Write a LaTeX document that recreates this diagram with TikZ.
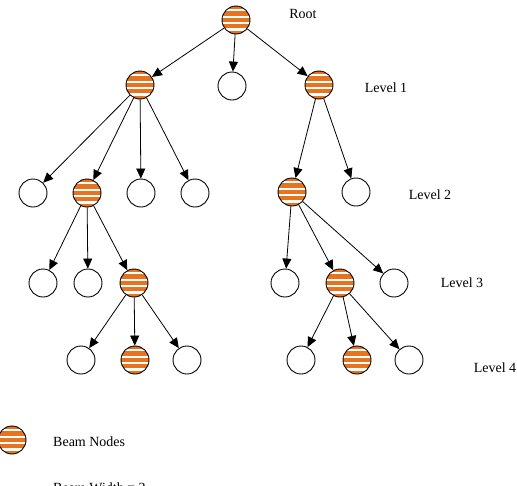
\documentclass[tikz,border=0pt]{standalone}
\usepackage{fontspec}
\setmainfont{Liberation Serif}
\usetikzlibrary{arrows.meta}
\definecolor{beamorange}{HTML}{E8731E}
\tikzset{
  nd/.style={circle, draw=black, line width=0.9pt, minimum size=28pt, inner sep=0pt, fill=white},
  beam/.style={nd, path picture={
      \begin{scope}[shift={(path picture bounding box.center)}]
        \foreach \i in {0,...,4} {
          \fill[beamorange] (-16pt,{-14.8pt+\i*6.4pt}) rectangle (16pt,{-10.6pt+\i*6.4pt});
        }
      \end{scope}}},
  edge/.style={line width=0.8pt, -{Triangle[length=10pt,width=9pt]}},
  lbl/.style={font=\fontsize{14pt}{16pt}\selectfont, inner sep=0pt}
}
\begin{document}
\begin{tikzpicture}[x=1pt,y=-1pt]
\useasboundingbox (0,0) rectangle (517,485);
% nodes
\node[beam] (root) at (236,20) {};
\node[beam] (a) at (140,85) {};
\node[nd] (b) at (232,86) {};
\node[beam] (c) at (319,85) {};
\node[nd] (a1) at (33,193) {};
\node[beam] (d) at (87,193) {};
\node[nd] (a3) at (141,193) {};
\node[nd] (a4) at (195,193) {};
\node[beam] (e) at (292,192) {};
\node[nd] (c2) at (356,192) {};
\node[nd] (d1) at (43,283) {};
\node[nd] (d2) at (88,283) {};
\node[beam] (f) at (134,283) {};
\node[nd] (e1) at (285,283) {};
\node[beam] (g) at (340,283) {};
\node[nd] (e3) at (394,283) {};
\node[nd] (f1) at (81,360) {};
\node[beam] (h) at (135,360) {};
\node[nd] (f3) at (187,360) {};
\node[nd] (g1) at (301,360) {};
\node[beam] (i) at (357,360) {};
\node[nd] (g3) at (409,360) {};
\node[beam] (leg) at (12,440) {};
% edges
\draw[edge] (root) -- (a);
\draw[edge] (root) -- (b);
\draw[edge] (root) -- (c);
\draw[edge] (a) -- (a1);
\draw[edge] (a) -- (d);
\draw[edge] (a) -- (a3);
\draw[edge] (a) -- (a4);
\draw[edge] (c) -- (e);
\draw[edge] (c) -- (c2);
\draw[edge] (d) -- (d1);
\draw[edge] (d) -- (d2);
\draw[edge] (d) -- (f);
\draw[edge] (e) -- (e1);
\draw[edge] (e) -- (g);
\draw[edge] (e) -- (e3);
\draw[edge] (f) -- (f1);
\draw[edge] (f) -- (h);
\draw[edge] (f) -- (f3);
\draw[edge] (g) -- (g1);
\draw[edge] (g) -- (i);
\draw[edge] (g) -- (g3);
% labels
\node[lbl] (lroot) at (303,14) {Root};
\node[lbl] (l1) at (386,88) {Level 1};
\node[lbl] (l2) at (430,195) {Level 2};
\node[lbl] (l3) at (462,283) {Level 3};
\node[lbl] (l4) at (495,368) {Level 4};
\node[lbl, anchor=west] (lb) at (53,442) {Beam Nodes};
\node[lbl, anchor=west] (lw) at (53,488) {Beam Width = 2};
\end{tikzpicture}
\end{document}
